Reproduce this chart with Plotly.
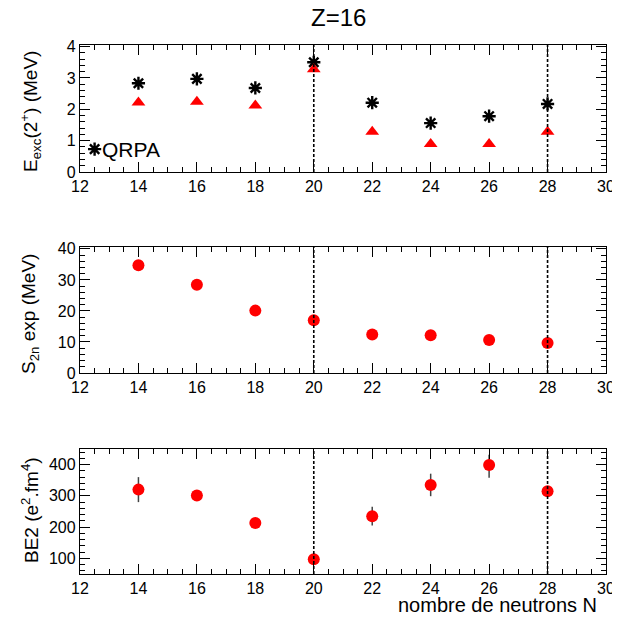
import plotly.graph_objects as go

# ---- data ----
N = [14, 16, 18, 20, 22, 24, 26, 28]
e_qrpa = [2.83, 2.97, 2.68, 3.50, 2.21, 1.56, 1.78, 2.17]
e_exp = [2.22, 2.24, 2.12, 3.28, 1.28, 0.89, 0.89, 1.28]
s2n_exp = [34.7, 28.4, 20.1, 17.0, 12.4, 12.2, 10.6, 9.7]
be2 = [320, 301, 213, 97, 235, 335, 399, 315]
be2_err_plus = [40, 10, 10, 8, 30, 36, 33, 12]
be2_err_minus = [40, 10, 10, 8, 30, 36, 41, 12]
magic_N = [20, 28]
legend_pos = (12.5, 0.73)

W, H = 620, 617
OFF = 8  # page body margin shifts the figure by this many pixels
FONT = "Liberation Sans, Arial, sans-serif"

def px_x(p):
    return (p - OFF) / W

def px_y(p):
    return 1 - (p - OFF) / H

xdom = [px_x(80), px_x(606)]
panels = [
    dict(dom=[px_y(172), px_y(45)], rng=[0, 4.05], dtick=1, tick0=0, minor=0.2),
    dict(dom=[px_y(373), px_y(247)], rng=[0, 40.6], dtick=10, tick0=0, minor=2),
    dict(dom=[px_y(574), px_y(449)], rng=[50, 450], dtick=100, tick0=0, minor=20),
]

fig = go.Figure()

red = "#ff0000"
star = dict(symbol="asterisk-open", size=11, color="black", line=dict(color="black", width=2.4))
fig.add_trace(go.Scatter(x=N, y=e_qrpa, mode="markers", xaxis="x", yaxis="y",
                         marker=star, showlegend=False))
fig.add_trace(go.Scatter(x=N, y=e_exp, mode="markers", xaxis="x", yaxis="y",
                         marker=dict(symbol="triangle-up", size=12, color=red), showlegend=False))
fig.add_trace(go.Scatter(x=[legend_pos[0]], y=[legend_pos[1]], mode="markers", xaxis="x", yaxis="y",
                         marker=star, showlegend=False))
fig.add_trace(go.Scatter(x=N, y=s2n_exp, mode="markers", xaxis="x2", yaxis="y2",
                         marker=dict(symbol="circle", size=12, color=red), showlegend=False))
fig.add_trace(go.Scatter(x=N, y=be2, mode="markers", xaxis="x3", yaxis="y3",
                         error_y=dict(type="data", symmetric=False, array=be2_err_plus,
                                      arrayminus=be2_err_minus, color="#444444",
                                      thickness=1.5, width=0),
                         marker=dict(symbol="circle", size=12, color=red), showlegend=False))

axis_common = dict(showline=True, linecolor="black", linewidth=1.3, mirror="allticks",
                   ticks="inside", ticklen=10, tickwidth=1, tickcolor="black",
                   showgrid=False, zeroline=False, automargin=False,
                   tickfont=dict(family=FONT, size=16, color="black"))

layout = dict(width=W, height=H, margin=dict(l=0, r=0, t=0, b=0, autoexpand=False),
              paper_bgcolor="white", plot_bgcolor="white", showlegend=False)
for i, p in enumerate(panels):
    sx = "" if i == 0 else str(i + 1)
    layout["xaxis" + sx] = dict(axis_common, domain=xdom, range=[12, 30], dtick=2, tick0=12,
                                anchor="y" + sx,
                                minor=dict(dtick=0.5, ticklen=5, ticks="inside", tickcolor="black"))
    layout["yaxis" + sx] = dict(axis_common, domain=p["dom"], range=p["rng"], dtick=p["dtick"],
                                tick0=p["tick0"], anchor="x" + sx,
                                minor=dict(dtick=p["minor"], ticklen=5, ticks="inside", tickcolor="black"))
fig.update_layout(**layout)

shapes = []
for i in range(3):
    sx = "" if i == 0 else str(i + 1)
    for n in magic_N:
        shapes.append(dict(type="line", xref="x" + sx, yref=("y" + sx + " domain") if sx else "y domain",
                           x0=n, x1=n, y0=0, y1=1,
                           line=dict(color="black", width=1.6, dash="3px,2px")))
fig.update_layout(shapes=shapes)

def txt(text, x, y, size, **kw):
    d = dict(text=text, x=x, y=y, xref="paper", yref="paper", showarrow=False,
             xanchor="center", yanchor="middle", borderpad=0,
             font=dict(family=FONT, size=size, color="black"))
    d.update(kw)
    return d

ann = [
    txt("Z=16", px_x(339), px_y(18), 24),
    dict(text="QRPA", x=legend_pos[0] + 0.18, y=legend_pos[1], xref="x", yref="y",
         xanchor="left", yanchor="middle", showarrow=False,
         font=dict(family=FONT, size=21, color="black")),
    txt("E<sub>exc</sub>(2<sup>+</sup>) (MeV)", px_x(30), px_y(112), 19, textangle=-90),
    txt("S<sub>2n</sub> exp (MeV)", px_x(30), px_y(314), 19, textangle=-90),
    txt("BE2 (e<sup>2</sup>.fm<sup>4</sup>)", px_x(30), px_y(510), 19, textangle=-90),
    txt("nombre de neutrons N", px_x(598), px_y(605), 20, xanchor="right"),
]
fig.update_layout(annotations=ann)

fig.write_html("out.html")
